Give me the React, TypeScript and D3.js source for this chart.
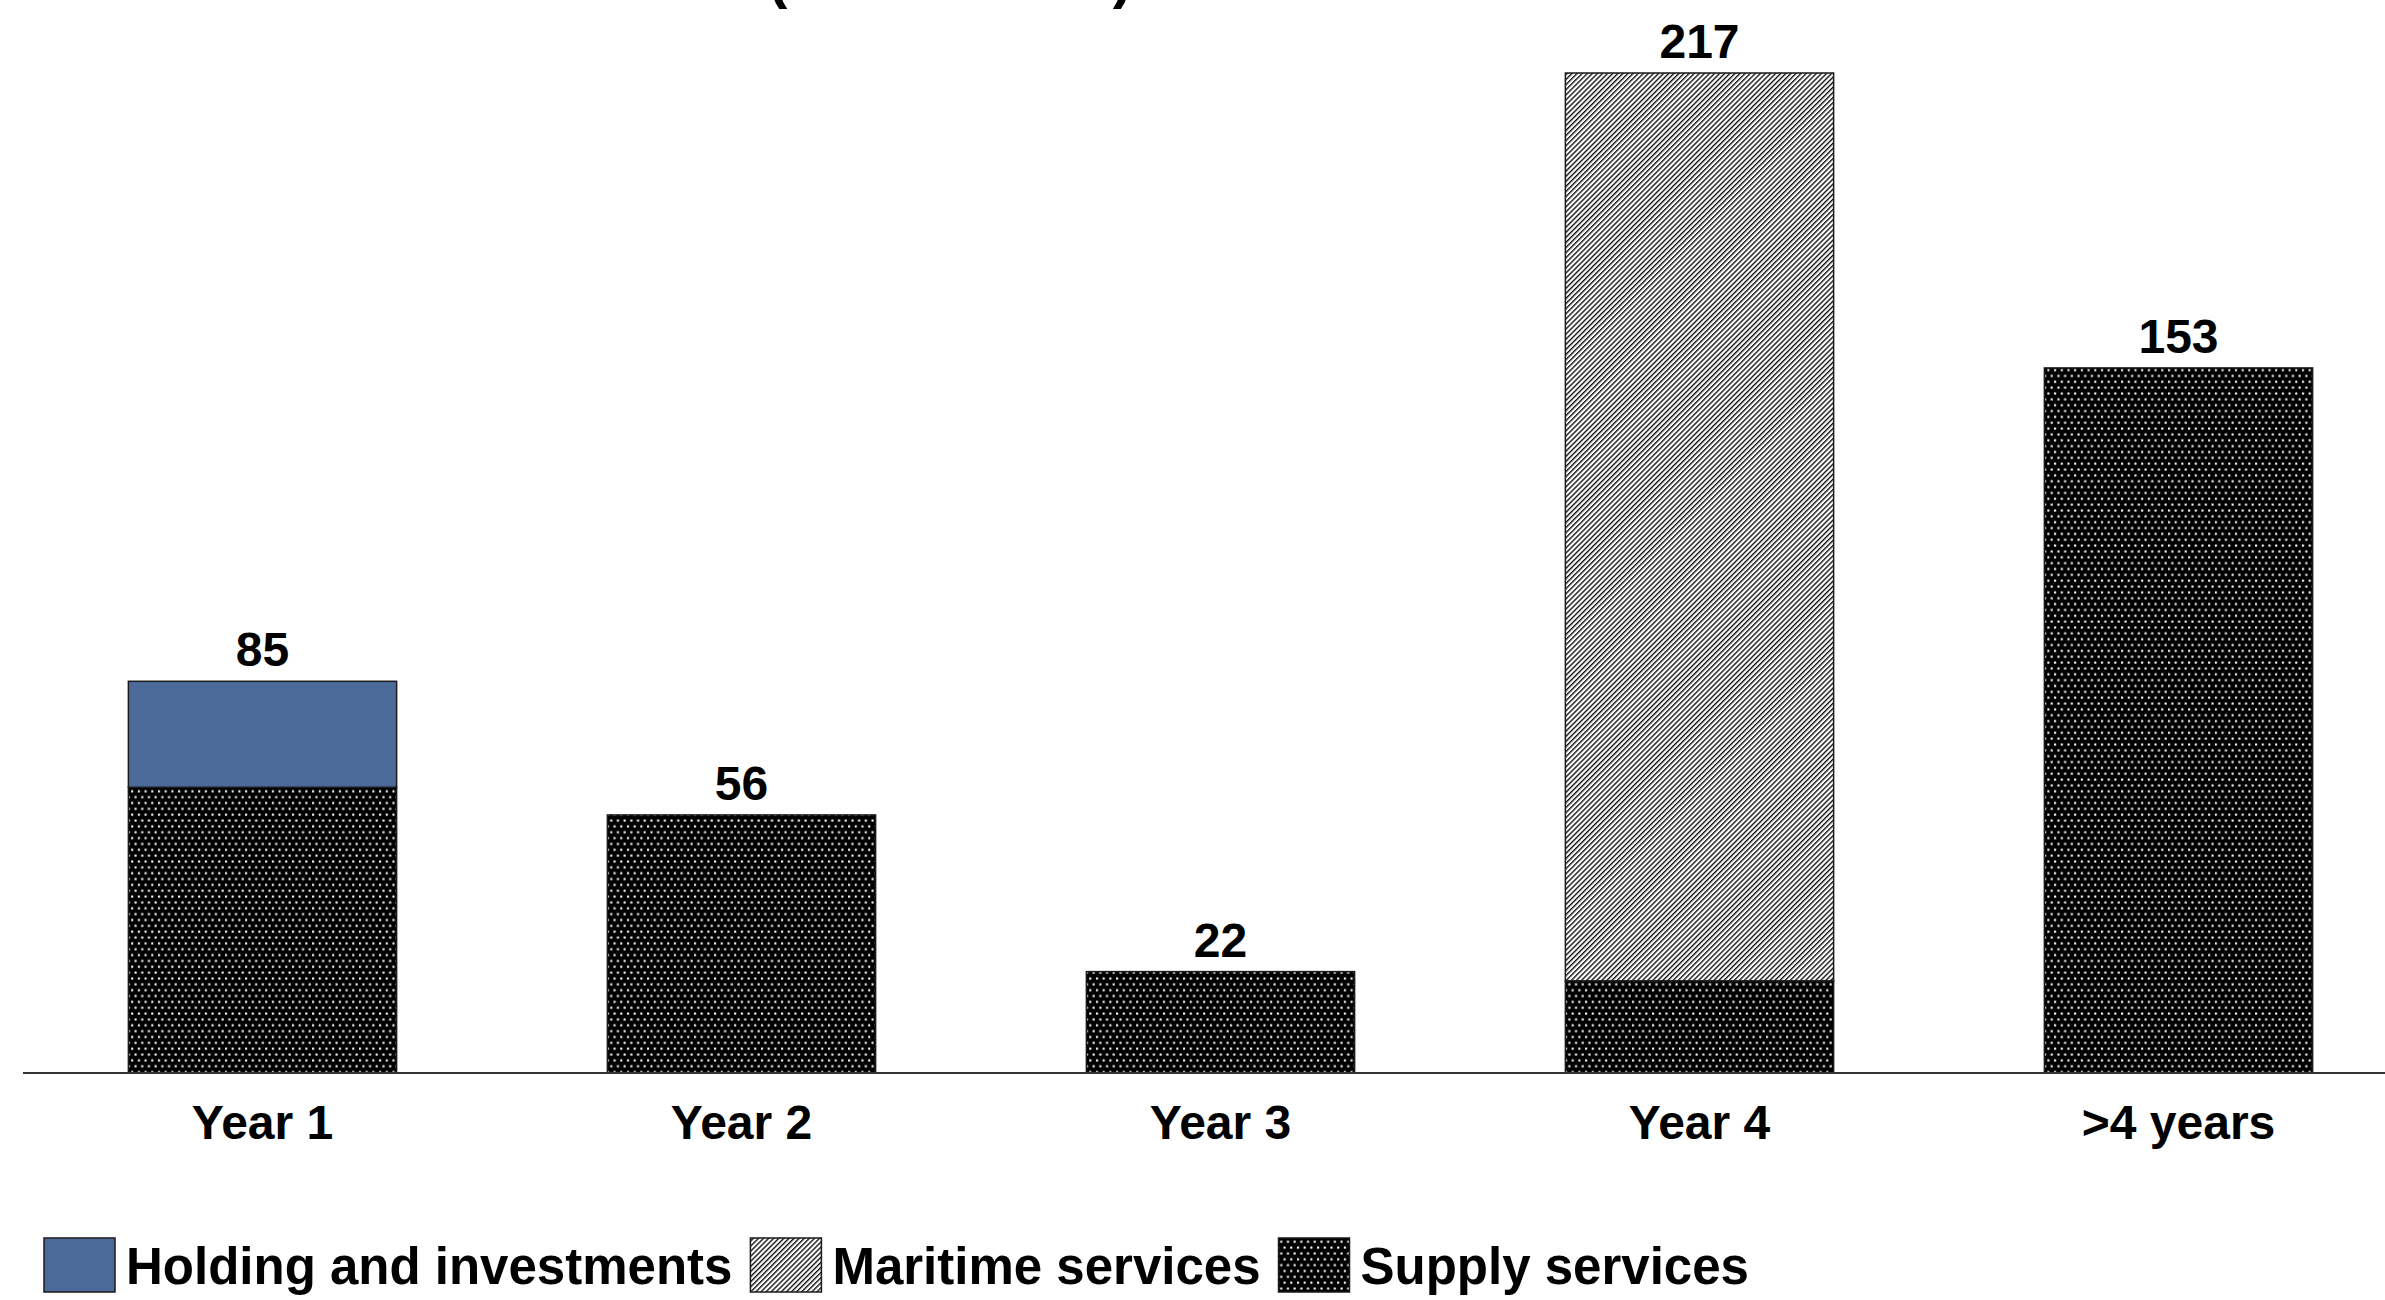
import React, { useEffect, useRef } from "react";
import * as d3 from "d3";

// Maturity profile of interest-bearing debt by segment
const categories = ["Year 1", "Year 2", "Year 3", "Year 4", ">4 years"];
const seriesNames = ["Supply services", "Maritime services", "Holding and investments"];
const supplyValues = [62, 56, 22, 20, 153];
const maritimeValues = [0, 0, 0, 197, 0];
const holdingValues = [23, 0, 0, 0, 0];
const totalLabels = [85, 56, 22, 217, 153];
const legendOrder = ["Holding and investments", "Maritime services", "Supply services"];
const titleText = "(USD million)";

const W = 2385;
const H = 1300;
const FONT = "'Liberation Sans', Arial, Helvetica, sans-serif";

export default function App() {
  const ref = useRef<SVGSVGElement | null>(null);

  useEffect(() => {
    const svg = d3.select(ref.current);
    svg.selectAll("*").remove();

    const defs = svg.append("defs");

    // dotted fill: black ground with small white dots on a staggered grid
    const dots = defs
      .append("pattern")
      .attr("id", "dots")
      .attr("patternUnits", "userSpaceOnUse")
      .attr("width", 6.7)
      .attr("height", 11.7);
    dots.append("rect").attr("width", 6.7).attr("height", 11.7).attr("fill", "#000");
    dots.append("rect").attr("x", 0.5).attr("y", 0.5).attr("width", 2.1).attr("height", 2.1).attr("fill", "#fff");
    dots.append("rect").attr("x", 3.85).attr("y", 6.35).attr("width", 2.1).attr("height", 2.1).attr("fill", "#fff");

    // diagonal hatch: thin black "/" lines on white
    const hatch = defs
      .append("pattern")
      .attr("id", "hatch")
      .attr("patternUnits", "userSpaceOnUse")
      .attr("width", 3.6)
      .attr("height", 3.6)
      .attr("patternTransform", "rotate(45)");
    hatch.append("rect").attr("width", 3.6).attr("height", 3.6).attr("fill", "#fff");
    hatch
      .append("line")
      .attr("x1", 0.7)
      .attr("y1", 0)
      .attr("x2", 0.7)
      .attr("y2", 3.6)
      .attr("stroke", "#000")
      .attr("stroke-width", 1.3);

    const fills: Record<string, string> = {
      "Supply services": "url(#dots)",
      "Maritime services": "url(#hatch)",
      "Holding and investments": "#4B6A99",
    };

    const x = d3
      .scaleBand<string>()
      .domain(categories)
      .range([23, 2418])
      .paddingInner(0.44)
      .paddingOuter(0.22);

    const y = d3.scaleLinear().domain([0, 217]).range([1073, 73]);

    const table = categories.map((c, i) => ({
      category: c,
      "Supply services": supplyValues[i],
      "Maritime services": maritimeValues[i],
      "Holding and investments": holdingValues[i],
    }));

    const stack = d3.stack<any>().keys(seriesNames);
    const layers = stack(table);

    const g = svg.append("g");

    layers.forEach((layer) => {
      g.append("g")
        .selectAll("rect")
        .data(layer.filter((d) => d[1] - d[0] > 0))
        .join("rect")
        .attr("x", (d) => x(d.data.category) as number)
        .attr("width", x.bandwidth())
        .attr("y", (d) => y(d[1]))
        .attr("height", (d) => y(d[0]) - y(d[1]))
        .attr("fill", fills[layer.key])
        .attr("stroke", "#1a1a1a")
        .attr("stroke-width", 1.5);
    });

    // baseline axis
    g.append("line")
      .attr("x1", 23)
      .attr("x2", W)
      .attr("y1", y(0))
      .attr("y2", y(0))
      .attr("stroke", "#333")
      .attr("stroke-width", 2);

    // totals above bars
    g.append("g")
      .selectAll("text")
      .data(categories)
      .join("text")
      .attr("x", (c) => (x(c) as number) + x.bandwidth() / 2)
      .attr("y", (_c, i) => y(totalLabels[i]) - 15)
      .attr("text-anchor", "middle")
      .attr("font-family", FONT)
      .attr("font-weight", "bold")
      .attr("font-size", 48)
      .attr("fill", "#000")
      .text((_c, i) => String(totalLabels[i]));

    // category labels
    g.append("g")
      .selectAll("text")
      .data(categories)
      .join("text")
      .attr("x", (c) => (x(c) as number) + x.bandwidth() / 2)
      .attr("y", 1139)
      .attr("text-anchor", "middle")
      .attr("font-family", FONT)
      .attr("font-weight", "bold")
      .attr("font-size", 48)
      .attr("fill", "#000")
      .text((c) => c);

    // title, sitting at the very top edge
    svg
      .append("text")
      .attr("x", 950)
      .attr("y", -3)
      .attr("text-anchor", "middle")
      .attr("font-family", FONT)
      .attr("font-weight", "bold")
      .attr("font-size", 58)
      .attr("fill", "#000")
      .text(titleText);

    // legend
    const legend = svg.append("g");
    let lx = 44;
    legendOrder.forEach((name) => {
      legend
        .append("rect")
        .attr("x", lx)
        .attr("y", 1238)
        .attr("width", 71)
        .attr("height", 54)
        .attr("fill", fills[name])
        .attr("stroke", "#1a1a1a")
        .attr("stroke-width", 1.5);
      const t = legend
        .append("text")
        .attr("x", lx + 82)
        .attr("y", 1284)
        .attr("font-family", FONT)
        .attr("font-weight", "bold")
        .attr("font-size", 51)
        .attr("fill", "#000")
        .text(name);
      const w = (t.node() as SVGTextElement).getComputedTextLength();
      lx = lx + 82 + w + 18;
    });
  }, []);

  return (
    <>
      <style>{`body{margin:0;}`}</style>
      <svg ref={ref} width={W} height={H} style={{ display: "block" }} />
    </>
  );
}
